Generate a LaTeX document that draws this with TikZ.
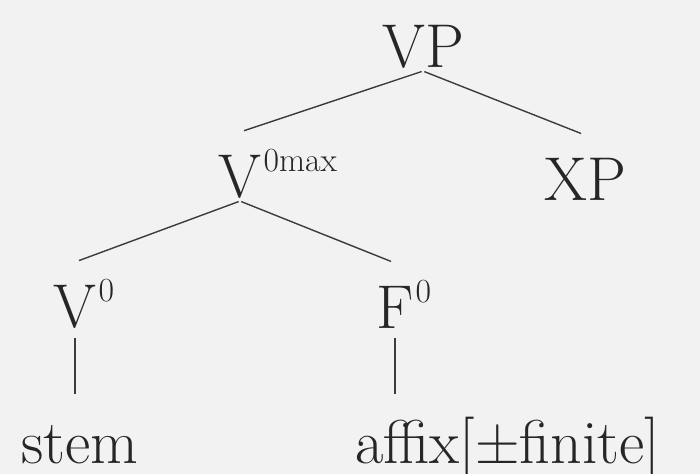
\documentclass[tikz,border=0pt]{standalone}
\usepackage{tikz}
\definecolor{TREEink}{HTML}{262626}
\definecolor{TREEline}{HTML}{3C3C3C}
\definecolor{TREEpaper}{HTML}{F3F2F3}
\usetikzlibrary{positioning}
% bar-level superscript that does not move the node centre
\newcommand{\barlvl}[1]{\rlap{\kern1.5pt\raisebox{18pt}{\fontsize{24}{28}\selectfont #1}}}
\tikzset{
   cat/.style={inner sep=2pt, text height=44pt, anchor=base, text=TREEink, font=\fontsize{44}{53}\selectfont},
   leaf/.style={cat, anchor=base west, text depth=0pt},
   branch/.style={TREEline, line width=1pt, shorten <=1pt, shorten >=3pt}
}
\begin{document}
\begin{tikzpicture}[x=0.025cm, y=-0.025cm]
      \useasboundingbox (0,0) rectangle (700,474);
      \fill[TREEpaper] (0,0) rectangle (700,474);
      % categories
      \node[cat] (vp) at (423,67) {VP};
      \node[cat] (vmax) at (240,197) {V\barlvl{0max}};
      \node[cat] (xp) at (585,200) {XP};
      \node[cat] (v0) at (75,327) {V\barlvl{0}};
      \node[cat] (f0) at (395,328) {F\barlvl{0}};
      % terminals
      \node[leaf] (stem) at (18,463) {stem};
      \node[leaf] (affix) at (352,463) {affix[±finite]};
      % branches
      \draw[branch] (vp.south) -- (vmax.north);
      \draw[branch] (vp.south) -- (xp.north);
      \draw[branch] (vmax.south) -- (v0.north);
      \draw[branch] (vmax.south) -- (f0.north);
      \draw[branch, shorten <=5pt] (v0.south) -- (v0 |- stem.north);
      \draw[branch, shorten <=5pt] (f0.south) -- (f0 |- affix.north);
   \end{tikzpicture}
\end{document}
